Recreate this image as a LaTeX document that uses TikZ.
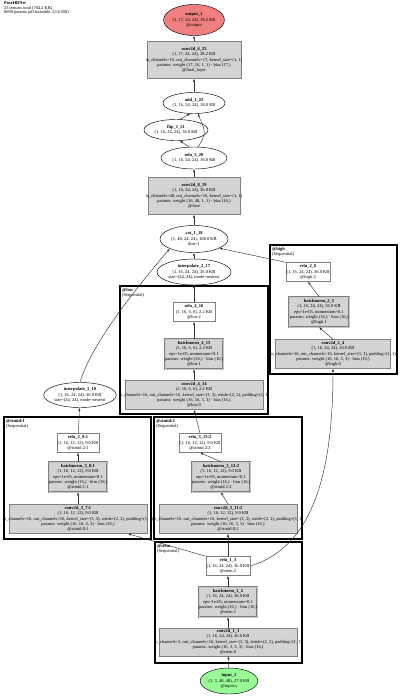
\documentclass[tikz,border=0pt]{standalone}
\usepackage{fontspec}
\setmainfont{Liberation Serif}
\usetikzlibrary{shapes.geometric,arrows.meta}
\definecolor{convgray}{RGB}{211,211,211}
\definecolor{bordgray}{RGB}{128,128,128}
\definecolor{outred}{RGB}{240,128,128}
\definecolor{ingreen}{RGB}{152,251,152}
\definecolor{edgegray}{RGB}{50,50,50}
\newcommand{\nodefont}{\fontsize{4.5}{5.3}\selectfont}
\newcommand{\titlefont}{\fontsize{4.4}{4.6}\selectfont}
\newcommand{\lbl}[2]{\makebox[#1]{\begin{tabular}{@{}c@{}}#2\end{tabular}}}
\newcommand{\tl}[1]{\begin{tabular}{@{}c@{}}#1\end{tabular}}
\newcommand{\shA}{(1, 16, 24, 24), 36.0 KB}
\newcommand{\shB}{(1, 16, 12, 12), 9.0 KB}
\newcommand{\shC}{(1, 16, 6, 6), 2.2 KB}
\newcommand{\bnpar}{eps=1e-05, momentum=0.1\\params: weight (16,) · bias (16,)}
\newcommand{\cvpar}{params: weight (16, 16, 3, 3) · bias (16,)}
\newcommand{\cvstr}{in\_channels=16, out\_channels=16, kernel\_size=(3, 3), stride=(2, 2), padding=(1, 1)}
\tikzset{
  sz/.style 2 args={minimum width=#1pt, minimum height=#2pt},
  base/.style={inner sep=0pt, font=\nodefont},
  modbox/.style={base, rectangle, draw=bordgray, fill=white, line width=0.5pt},
  convbox/.style={base, rectangle, draw=bordgray, fill=convgray, line width=0.5pt},
  bnbox/.style={base, rectangle, draw=bordgray, double=gray!45, double distance=1pt, line width=0.5pt, fill=convgray},
  oval/.style={base, ellipse, draw=black, fill=white, line width=0.45pt},
  cluster/.style={draw=black, line width=1.5pt},
  clab/.style={anchor=north west, inner sep=0pt, font=\nodefont, align=left},
  edge/.style={draw=edgegray, line width=0.45pt, -{Latex[length=3pt,width=2.2pt]}}
}
\begin{document}
\begin{tikzpicture}[x=1pt,y=-1pt]
\useasboundingbox (0,0) rectangle (400,696);
\fill[white] (0,0) rectangle (400,696);

% title
\node[anchor=north west, inner sep=0pt, font=\titlefont, align=left] (title) at (4,1.5)
  {\textbf{PoseHRNet}\\25 tensors total (704.2 KB)\\8609 params (all trainable, 33.6 KB)};

% clusters
\draw[cluster] (120,286) rectangle (268,414);
\node[clab] (lowlab) at (122,288) {\textbf{@low}\\(Sequential)};
\draw[cluster] (270,245) rectangle (397,374);
\node[clab] (highlab) at (272,247) {\textbf{@high}\\(Sequential)};
\draw[cluster] (4,417) rectangle (151,539);
\node[clab] (s1lab) at (6,419) {\textbf{@stmid:1}\\(Sequential)};
\draw[cluster] (154,417) rectangle (302,539);
\node[clab] (s2lab) at (156,419) {\textbf{@stmid:2}\\(Sequential)};
\draw[cluster] (155,542) rectangle (302,663);
\node[clab] (stemlab) at (157,544) {\textbf{@stem}\\(Sequential)};

% top chain
\node[oval, fill=outred, sz={60}{31}] (out) at (194,20)
  {\tl{\textbf{output\_1}\\(1, 17, 24, 24), 38.2 KB\\@output}};
\node[convbox, sz={94}{37}] (c623) at (194,60)
  {\lbl{94pt}{\textbf{conv2d\_6\_23}\\(1, 17, 24, 24), 38.2 KB\\in\_channels=16, out\_channels=17, kernel\_size=(1, 1)\\params: weight (17, 16, 1, 1) · bias (17,)\\@final\_layer}};
\node[oval, sz={62}{21}] (add) at (194,103) {\tl{\textbf{add\_1\_22}\\\shA}};
\node[oval, sz={64}{21}] (flip) at (176,130) {\tl{\textbf{flip\_1\_21}\\\shA}};
\node[oval, sz={66}{22}] (r520) at (194,158) {\tl{\textbf{relu\_5\_20}\\\shA}};
\node[convbox, sz={92}{37}] (c819) at (194,196)
  {\lbl{92pt}{\textbf{conv2d\_8\_19}\\\shA\\in\_channels=48, out\_channels=16, kernel\_size=(1, 1)\\params: weight (16, 48, 1, 1) · bias (16,)\\@fuse}};
\node[oval, sz={68}{27}] (cat) at (194,239) {\tl{\textbf{cat\_1\_18}\\(1, 48, 24, 24), 108.0 KB\\dim=1}};
\node[oval, sz={74}{26}] (i217) at (194,272) {\tl{\textbf{interpolate\_2\_17}\\\shA\\size=(24, 24), mode=nearest}};

% low
\node[modbox, sz={42}{19}] (r416) at (194,312) {\lbl{42pt}{\textbf{relu\_4\_16}\\\shC\\@low.2}};
\node[bnbox, sz={58}{30}] (b415) at (194,354) {\lbl{58pt}{\textbf{batchnorm\_4\_15}\\\shC\\\bnpar\\@low.1}};
\node[convbox, sz={138}{29}] (c414) at (194,395) {\lbl{138pt}{\textbf{conv2d\_4\_14}\\\shC\\\cvstr\\\cvpar\\@low.0}};

% high
\node[modbox, sz={44}{19}] (r26) at (308,272) {\lbl{44pt}{\textbf{relu\_2\_6}\\\shA\\@high.2}};
\node[bnbox, sz={60}{30}] (b25) at (319,312) {\lbl{60pt}{\textbf{batchnorm\_2\_5}\\\shA\\\bnpar\\@high.1}};
\node[convbox, sz={115}{29}] (c24) at (333,354) {\lbl{115pt}{\textbf{conv2d\_2\_4}\\\shA\\in\_channels=16, out\_channels=16, kernel\_size=(3, 3), padding=(1, 1)\\\cvpar\\@high.0}};

% interpolate 1
\node[oval, sz={72}{25}] (i110) at (80,395) {\tl{\textbf{interpolate\_1\_10}\\\shA\\size=(24, 24), mode=nearest}};

% stmid 1
\node[modbox, sz={42}{19}] (r39) at (78,443) {\lbl{42pt}{\textbf{relu\_3\_9:1}\\\shB\\@stmid.2:1}};
\node[bnbox, sz={58}{30}] (b38) at (78,477) {\lbl{58pt}{\textbf{batchnorm\_3\_8:1}\\\shB\\\bnpar\\@stmid.1:1}};
\node[convbox, sz={138}{29}] (c37) at (78,519) {\lbl{138pt}{\textbf{conv2d\_3\_7:1}\\\shB\\\cvstr\\\cvpar\\@stmid.0:1}};

% stmid 2
\node[modbox, sz={42}{19}] (r313) at (200,443) {\lbl{42pt}{\textbf{relu\_3\_13:2}\\\shB\\@stmid.2:2}};
\node[bnbox, sz={58}{30}] (b312) at (221,477) {\lbl{58pt}{\textbf{batchnorm\_3\_12:2}\\\shB\\\bnpar\\@stmid.1:2}};
\node[convbox, sz={138}{29}] (c311) at (228,519) {\lbl{138pt}{\textbf{conv2d\_3\_11:2}\\\shB\\\cvstr\\\cvpar\\@stmid.0:2}};

% stem
\node[modbox, sz={44}{19}] (r13) at (228,566) {\lbl{44pt}{\textbf{relu\_1\_3}\\\shA\\@stem.2}};
\node[bnbox, sz={58}{30}] (b12) at (228,602) {\lbl{58pt}{\textbf{batchnorm\_1\_2}\\\shA\\\bnpar\\@stem.1}};
\node[convbox, sz={138}{28}] (c11) at (228,642) {\lbl{138pt}{\textbf{conv2d\_1\_1}\\\shA\\in\_channels=3, out\_channels=16, kernel\_size=(3, 3), stride=(2, 2), padding=(1, 1)\\params: weight (16, 3, 3, 3) · bias (16,)\\@stem.0}};
\node[oval, fill=ingreen, sz={52}{26}] (inp) at (229,681) {\tl{\textbf{input\_1}\\(1, 3, 48, 48), 27.0 KB\\@input.x}};

% edges
\draw[edge] (inp) -- (c11);
\draw[edge] (c11) -- (b12);
\draw[edge] (b12) -- (r13);
\draw[edge] (r13.north) -- (c311.south);
\draw[edge] (r13.north west) -- ([xshift=50pt]c37.south);
\draw[edge] (r13.east) .. controls +(60,-18) and +(0,110) .. (c24.south);
\draw[edge] (c37) -- (b38);
\draw[edge] (b38) -- (r39);
\draw[edge] (r39) -- (i110);
\draw[edge] (c311.north) -- (b312.south);
\draw[edge] (b312.north) -- (r313.south);
\draw[edge] (r313.north) -- (c414.south);
\draw[edge] (c414) -- (b415);
\draw[edge] (b415) -- (r416);
\draw[edge] (r416) -- (i217);
\draw[edge] (c24.north) -- (b25.south);
\draw[edge] (b25.north) -- (r26.south);
\draw[edge] (r26.north west) -- (cat.-20);
\draw[edge] (i110.north) .. controls +(12,-40) and +(-30,35) .. (cat.south west);
\draw[edge] (i217) -- (cat);
\draw[edge] (cat) -- (c819);
\draw[edge] (c819) -- (r520);
\draw[edge] (r520.115) -- (flip.-70);
\draw[edge] (flip.70) -- (add.-110);
\draw[edge] (r520.70) .. controls +(10,-15) and +(6,15) .. (add.-70);
\draw[edge] (add) -- (c623);
\draw[edge] (c623) -- (out);
\end{tikzpicture}
\end{document}
